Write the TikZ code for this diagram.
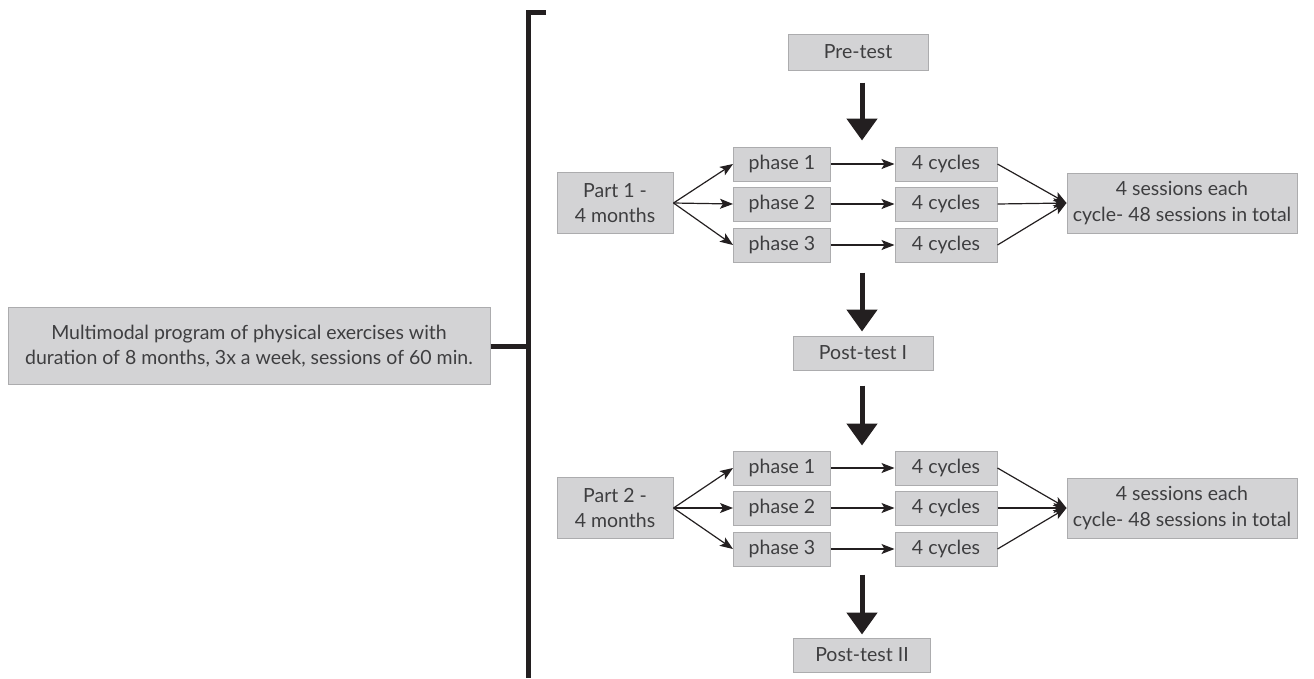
\documentclass[tikz,border=0pt]{standalone}
\usepackage{fontspec}
\setmainfont{Lato}
\usetikzlibrary{arrows.meta}

\definecolor{boxfill}{RGB}{211,211,213}
\definecolor{boxline}{RGB}{172,172,174}
\definecolor{txtgray}{RGB}{62,62,64}
\definecolor{lncol}{RGB}{35,31,32}

\tikzset{every picture/.style={line width=0.75pt}}

\begin{document}
\begin{tikzpicture}[x=1pt,y=1pt,yscale=-1,xscale=1,
  box/.style={draw=boxline, fill=boxfill, text=txtgray, inner sep=0pt, align=center,
              line width=1pt, font=\fontsize{19.5}{25.5}\selectfont},
  phasebox/.style={box, minimum width=97, minimum height=34},
  cyclebox/.style={box, minimum width=102, minimum height=34},
  thinarrow/.style={-{Stealth[length=13pt,width=10pt,inset=3pt]}, line width=1.2pt, color=lncol},
  bigarrow/.style={-{Triangle[length=22pt,width=30pt]}, line width=5pt, color=lncol},
  bracket/.style={line width=5pt, color=lncol, line join=miter}]
\useasboundingbox (0,0) rectangle (1314,678);

% Program box and bracket
\node [box, minimum width=482, minimum height=77] (prog) at (249,346) {Multimodal program of physical exercises with\\duration of 8 months, 3x a week, sessions of 60 min.};
\coordinate (brtop) at (546,12);
\coordinate (brbot) at (528,678);
\draw [bracket] (brtop) -- (brtop -| brbot) -- (brbot);
\draw [bracket] (prog.east) -- (prog.east -| brbot);

% Tests
\node [box, minimum width=140, minimum height=36] (pre) at (858,52) {Pre-test};
\node [box, minimum width=140, minimum height=34] (post1) at (863,353) {Post-test I};
\node [box, minimum width=137, minimum height=34] (post2) at (862,655) {Post-test II};

% Part 1
\node [box, minimum width=116, minimum height=61] (part1) at (615,203) {Part 1 -\\4 months};
\node [phasebox] (ph11) at (782,164) {phase 1};
\node [phasebox] (ph12) at (782,204) {phase 2};
\node [phasebox] (ph13) at (782,245) {phase 3};
\node [cyclebox] (cy11) at (946,164) {4 cycles};
\node [cyclebox] (cy12) at (946,204) {4 cycles};
\node [cyclebox] (cy13) at (946,245) {4 cycles};
\node [box, minimum width=230, minimum height=60] (ses1) at (1182,203) {4 sessions each\\cycle- 48 sessions in total};

% Part 2
\node [box, minimum width=116, minimum height=61] (part2) at (615,508) {Part 2 -\\4 months};
\node [phasebox] (ph21) at (782,468) {phase 1};
\node [phasebox] (ph22) at (782,508) {phase 2};
\node [phasebox] (ph23) at (782,549) {phase 3};
\node [cyclebox] (cy21) at (946,468) {4 cycles};
\node [cyclebox] (cy22) at (946,508) {4 cycles};
\node [cyclebox] (cy23) at (946,549) {4 cycles};
\node [box, minimum width=230, minimum height=60] (ses2) at (1182,508) {4 sessions each\\cycle- 48 sessions in total};

% Thin arrows
\foreach \p in {1,2} {
  \foreach \i in {1,2,3} {
    \draw [thinarrow] (part\p.east) -- (ph\p\i.west);
    \draw [thinarrow] (ph\p\i.east) -- (cy\p\i.west);
    \draw [thinarrow] (cy\p\i.east) -- (ses\p.west);
  }
}

% Big arrows
\draw [bigarrow] ([xshift=4pt,yshift=12pt]pre.south) -- ++(0,58);
\draw [bigarrow] ([xshift=-1pt,yshift=-63pt]post1.north) -- ([xshift=-1pt,yshift=-4pt]post1.north);
\draw [bigarrow] ([xshift=-1pt,yshift=15pt]post1.south) -- ++(0,60);
\draw [bigarrow] ([yshift=-63pt]post2.north) -- ([yshift=-3pt]post2.north);

\end{tikzpicture}
\end{document}
